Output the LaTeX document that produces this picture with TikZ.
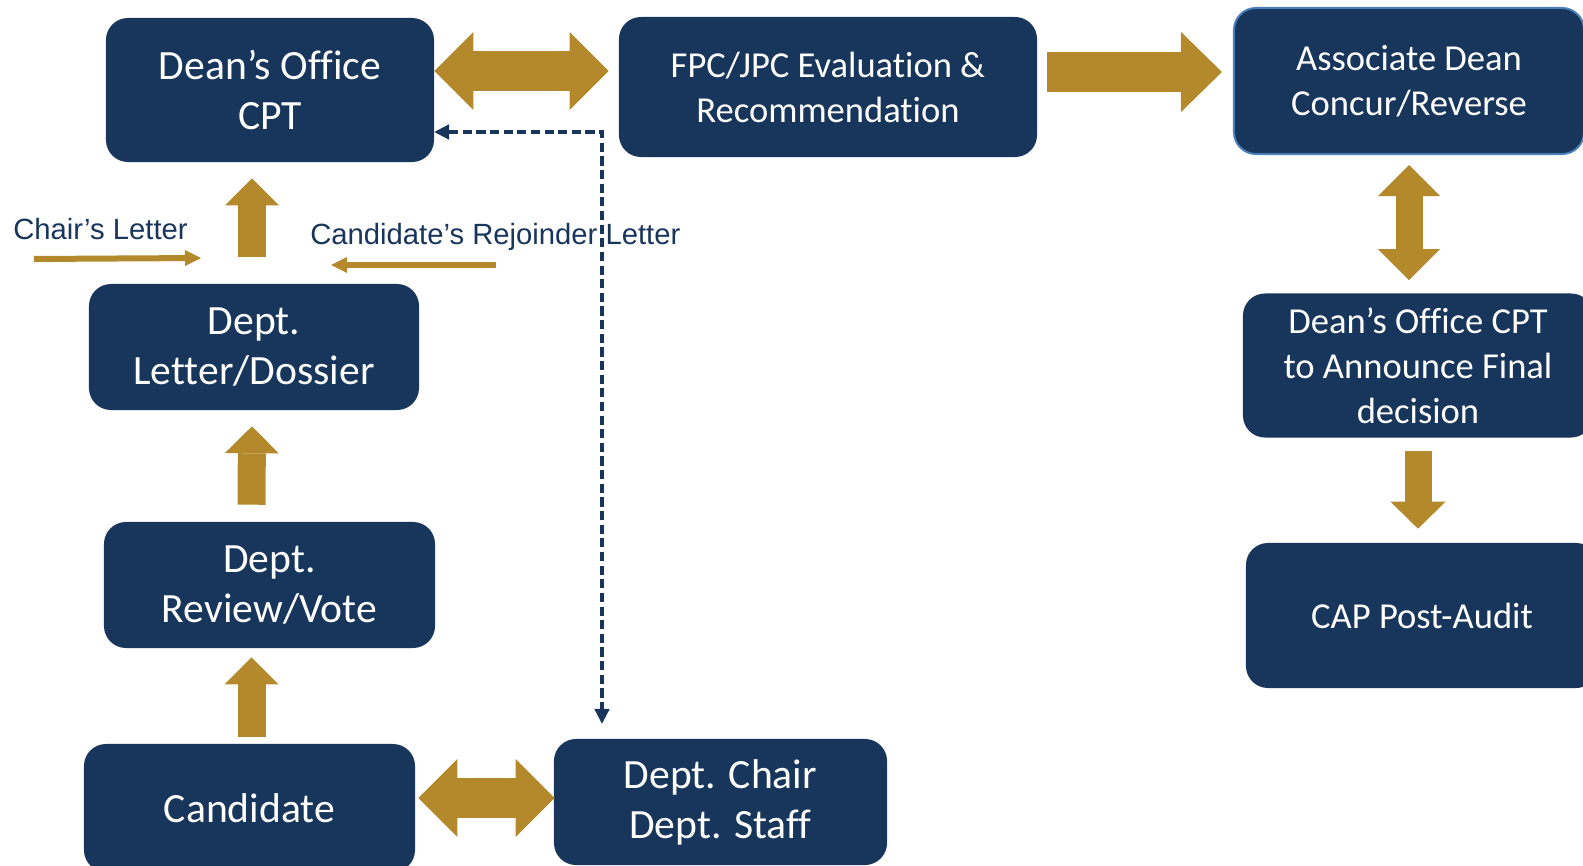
\documentclass[tikz,border=0pt]{standalone}
\usepackage{fontspec}
\setmainfont{Carlito}[Ligatures=NoCommon]
\newfontfamily\lblfont{Liberation Sans}
\usetikzlibrary{calc,arrows.meta}
\definecolor{navy}{HTML}{18365C}
\definecolor{gold}{HTML}{B4892C}
\definecolor{rimblue}{HTML}{4A7EBB}
\tikzset{
	box/.style={fill=navy, rounded corners=0.55cm, inner sep=0pt, align=center, text=white},
	bigtxt/.style={font=\fontsize{29.6}{35.6}\selectfont},
	smalltxt/.style={font=\fontsize{26}{32}\selectfont},
	lbl/.style={text=navy, inner sep=0pt, font=\lblfont\fontsize{20.8}{25}\selectfont},
	blockup/.style={gold, line width=0.7cm, -{Triangle[length=0.675cm,width=1.35cm,line width=0pt]}},
	blockdbl/.style={gold, line width=1cm, {Triangle[length=0.975cm,width=1.95cm,line width=0pt]}-{Triangle[length=0.975cm,width=1.95cm,line width=0pt]}},
	blockright/.style={gold, line width=1cm, -{Triangle[length=1.025cm,width=2cm,line width=0pt]}},
	blockvdbl/.style={gold, line width=0.675cm, {Triangle[length=0.775cm,width=1.55cm,line width=0pt]}-{Triangle[length=0.775cm,width=1.55cm,line width=0pt]}},
	blockdown/.style={gold, line width=0.675cm, -{Triangle[length=0.675cm,width=1.375cm,line width=0pt]}},
	thinarrow/.style={gold, line width=0.15cm, -{Triangle[length=0.4cm,width=0.4cm,line width=0pt]}},
	dashlink/.style={navy, line width=2.5pt, dash pattern=on 6.5pt off 3.2pt, {Triangle[length=10.5pt,width=11pt,line width=0pt]}-{Triangle[length=10.5pt,width=11pt,line width=0pt]}}
}

\begin{document}
\begin{tikzpicture}[x=0.025cm,y=-0.025cm]
					\useasboundingbox (0,0) rectangle (1583,866);
					%BOXES
					\node[box,bigtxt,minimum width=8.2cm,minimum height=3.6cm] (dean) at (270,90) {Dean’s Office\\CPT};
					\node[box,smalltxt,minimum width=10.45cm,minimum height=3.5cm] (fpc) at (828,87) {FPC/JPC Evaluation \&\\Recommendation};
					\node[box,smalltxt,draw=rimblue,line width=1.4pt,minimum width=8.75cm,minimum height=3.65cm] (assoc) at (1409,81) {Associate Dean\\Concur/Reverse};
					\node[box,smalltxt,minimum width=8.75cm,minimum height=3.6cm] (announce) at (1418,365.5) {Dean’s Office CPT\\to Announce Final\\decision};
					\node[box,smalltxt,minimum width=8.8cm,minimum height=3.625cm] (cap) at (1422,615.5) {CAP Post-Audit};
					\node[box,bigtxt,minimum width=8.25cm,minimum height=3.15cm] (dlet) at (254,347) {Dept.\\Letter/Dossier};
					\node[box,bigtxt,minimum width=8.275cm,minimum height=3.15cm] (dvote) at (269.5,585) {Dept.\\Review/Vote};
					\node[box,bigtxt,minimum width=8.275cm,minimum height=3.2cm] (cand) at (249.5,808) {Candidate};
					\node[box,bigtxt,minimum width=8.325cm,minimum height=3.15cm] (chair) at (720.5,802) {Dept. Chair\\Dept. Staff};
					%LABELS
					\node[lbl,anchor=base west] (chairlbl) at (13,240) {Chair’s Letter};
					\node[lbl,anchor=base west] (rejlbl) at (310,245) {Candidate’s Rejoinder Letter};
					\coordinate (cl1) at (34,259);
					\coordinate (cl2) at (201,258);
					\coordinate (rl1) at (496,265);
					\coordinate (rl2) at (331,265);
					\draw[thinarrow] (cl1) -- (cl2);
					\draw[thinarrow] (rl1) -- (rl2);
					%GOLD ARROWS
					\draw[blockdbl] ($(dean.east)+(0,-19)$) -- ($(fpc.west)+(-10,-16)$);
					\draw[blockright] ($(fpc.east)+(10,-15)$) -- ($(assoc.west)+(-11,-9)$);
					\draw[blockup] ($(dlet.north)+(-2,-27)$) -- ($(dean.south)+(-18,16)$);
					\draw[blockup] ($(dvote.north)+(-18,-17)$) -- ($(dlet.south)+(-2,16)$);
					\draw[blockup] ($(cand.north)+(2,-7)$) -- ($(dvote.south)+(-18,9)$);
					\draw[blockdbl] ($(cand.east)+(3,-10)$) -- ($(chair.west)+(1,-4)$);
					\draw[blockvdbl] ($(assoc.south)+(0,10)$) -- ($(announce.north)+(-9,-13)$);
					\draw[blockdown] ($(announce.south)+(0,13)$) -- ($(cap.north)+(-4,-14)$);
					%DASHED LINK
					\coordinate (dashturn) at (602,132);
					\coordinate (dashend) at ($(dashturn |- chair.north)+(0,-15)$);
					\draw[dashlink] (dean.east |- dashturn) -- (dashturn) -- (dashend);
\end{tikzpicture}
\end{document}
